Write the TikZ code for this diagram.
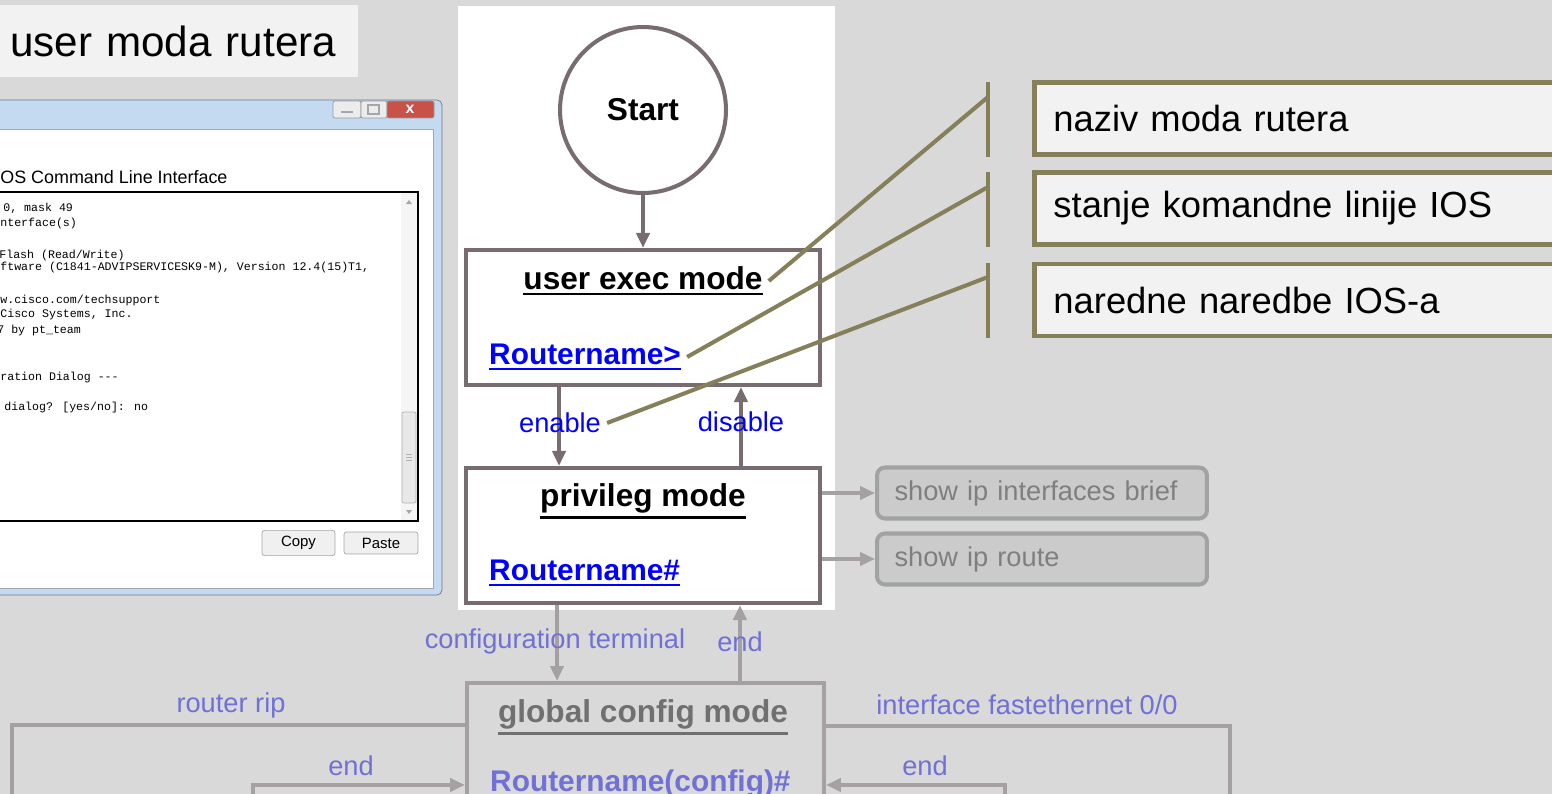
\documentclass[tikz,border=0pt]{standalone}
\usepackage{fontspec}
\setmainfont{Liberation Sans}
\newfontfamily\monofont{Liberation Mono}
\usetikzlibrary{positioning, arrows.meta}
\definecolor{bgray}{RGB}{217,217,217}
\definecolor{pale}{RGB}{242,242,242}
\definecolor{mauve}{RGB}{120,108,112}
\definecolor{fade}{RGB}{165,160,161}
\definecolor{fadeblue}{RGB}{112,112,214}
\definecolor{fadetext}{RGB}{112,112,112}
\definecolor{leader}{RGB}{133,128,90}
\definecolor{showfill}{RGB}{203,203,203}
\definecolor{showline}{RGB}{160,163,162}
\definecolor{showtext}{RGB}{127,127,127}
\definecolor{winblue}{RGB}{196,218,240}
\definecolor{winedge}{RGB}{110,120,135}
\definecolor{closered}{RGB}{200,82,72}
\newcommand\tip{Triangle[length=0.3cm,width=0.26cm]}
\newcommand\undl[1]{\setbox0=\hbox{#1}\vtop{\copy0\kern0.1em\hrule height 1.4pt width \wd0}}

\begin{document}
\begin{tikzpicture}[x=0.02cm, y=-0.02cm,
  mode/.style={draw=mauve, line width=2.3pt, fill=white, minimum width=7.08cm, minimum height=2.7cm},
  head/.style={font=\bfseries\fontsize{18}{20}\selectfont},
  prompt/.style={anchor=west, text=blue, font=\bfseries\fontsize{17}{20}\selectfont},
  cmd/.style={text=blue, font=\fontsize{15.5}{18}\selectfont},
  fcmd/.style={text=fadeblue, font=\fontsize{15.5}{18}\selectfont},
  arr/.style={draw=mauve, line width=2.3pt, -{\tip}},
  farr/.style={draw=fade, line width=2.3pt, -{\tip}},
  fline/.style={draw=fade, line width=2.3pt},
  showbox/.style={anchor=west, draw=showline, fill=showfill, line width=2.3pt, rounded corners=0.16cm, text=showtext, text width=5.9cm, align=left, inner xsep=0.35cm, minimum height=1.02cm, font=\fontsize{15.5}{18}\selectfont},
  note/.style={anchor=west, draw=leader, fill=pale, line width=2.8pt, text width=11cm, align=left, inner xsep=0.38cm, minimum height=1.44cm, font=\fontsize{20.7}{24}\selectfont},
  lead/.style={draw=leader, line width=2.3pt},
  tt/.style={anchor=west, inner sep=0pt, font=\monofont\fontsize{6.6}{7}\selectfont}
]
\fill[bgray] (0,0) rectangle (1552,794);
\useasboundingbox (0,0) rectangle (1552,794);

% title
\node[anchor=north west, fill=pale, minimum height=1.44cm, text width=6.76cm, align=left, inner xsep=0.2cm, font=\fontsize{24}{28}\selectfont] (title) at (0,5) {user moda rutera};

% terminal window
\draw[winedge, fill=winblue, rounded corners=0.1cm] (-20,100) rectangle (442,595);
\draw[gray!70, fill=white] (-10,129) rectangle (433,588);
\draw[gray!80, fill=gray!15, rounded corners=0.04cm] (333,101) rectangle (361,118);
\draw[gray!80, fill=gray!15, rounded corners=0.04cm] (361,101) rectangle (387,118);
\draw[gray!80, fill=closered, rounded corners=0.04cm] (387,101) rectangle (434,118);
\draw[gray!70, line width=1pt] (341,112) -- (353,112);
\draw[gray!70, line width=0.8pt] (368,105) rectangle (379,114);
\node[white, font=\bfseries\fontsize{9}{10}\selectfont] (closex) at (410,109) {x};
\node[anchor=west, inner sep=0pt, font=\fontsize{10.2}{12}\selectfont] (cli) at (0,177) {OS Command Line Interface};
\draw[black, line width=1pt, fill=white] (-10,192) rectangle (418,521);
\fill[gray!8] (401,193) rectangle (417,520);
\draw[gray!60, fill=gray!18, rounded corners=0.04cm] (402,412) rectangle (416,503);
\foreach \y in {454,457,460} \draw[gray!60] (406,\y) -- (412,\y);
\fill[gray!70] (406,204) -- (412,204) -- (409,200) -- cycle;
\fill[gray!70] (406,510) -- (412,510) -- (409,514) -- cycle;
\node[tt] (l1) at (3,208) {0, mask 49};
\node[tt] (l2) at (0,224) {nterface(s)};
\node[tt] (l3) at (-1,255) {Flash (Read/Write)};
\node[tt] (l4) at (0,268) {ftware (C1841-ADVIPSERVICESK9-M), Version 12.4(15)T1,};
\node[tt] (l5) at (0,300) {w.cisco.com/techsupport};
\node[tt] (l6) at (0,315) {Cisco Systems, Inc.};
\node[tt] (l7) at (-3,331) {7 by pt\_team};
\node[tt] (l8) at (0,377) {ration Dialog ---};
\node[tt] (l9) at (4,407) {dialog? [yes/no]: no};
\node[draw=gray!70, fill=gray!12, rounded corners=0.05cm, minimum width=1.46cm, minimum height=0.44cm, font=\fontsize{8.5}{10}\selectfont] (copy) at (298.5,543) {Copy};
\node[draw=gray!70, fill=gray!12, rounded corners=0.05cm, minimum width=1.48cm, minimum height=0.44cm, font=\fontsize{8.5}{10}\selectfont] (paste) at (381,543) {Paste};

% white panel behind the modes
\fill[white] (458,6) rectangle (835,610);

% modes
\node[circle, draw=mauve, line width=2.3pt, fill=white, minimum size=3.32cm, font=\bfseries\fontsize{18}{20}\selectfont] (start) at (643,110) {Start};
\node[mode, below=1.06cm of start] (user) {};
\node[mode, below=1.58cm of user] (priv) {};
\node[anchor=north, draw=fade, line width=2.3pt, minimum width=7.14cm, minimum height=4cm] (glob) at (645.5,681) {};

\node[head] (usert) at (643,281) {\undl{user exec mode}};
\node[prompt] (userp) at (483,357) {\undl{Routername>}};
\node[head] (privt) at (643,501) {\undl{privileg mode}};
\node[prompt] (privp) at (483,573) {\undl{Routername\#}};
\node[head, text=fadetext] (globt) at (643,717) {\undl{global config mode}};
\node[prompt, text=fadeblue] (globp) at (484,784) {Routername(config)\#};

\draw[arr] (start) -- (user);
\draw[arr] ([xshift=-1.68cm]user.south) -- ([xshift=-1.68cm]priv.north);
\draw[arr] ([xshift=1.96cm]priv.north) -- ([xshift=1.96cm]user.south);
\node[cmd] (enable) at (560,423) {enable};
\node[cmd] (disable) at (741,422) {disable};

% show commands
\node[showbox] (brief) at (875,493) {show ip interfaces brief};
\node[showbox] (route) at (875,559) {show ip route};
\draw[farr] (priv.east |- brief) -- (brief);
\draw[farr] (priv.east |- route.west) -- (route);

% global config
\draw[farr] ([xshift=-1.72cm]priv.south) -- ([xshift=-1.72cm]priv.south |- glob.north);
\draw[farr] ([xshift=1.94cm]priv.south |- glob.north) -- ([xshift=1.94cm]priv.south);
\node[fcmd] (conft) at (555,641) {configuration terminal};
\node[fcmd] (endup) at (740,642) {end};

\coordinate (ripdown) at (12,830);
\coordinate (ripback) at (253,830);
\coordinate (ifdown) at (1230,830);
\coordinate (ifback) at (1005,830);
\draw[fline] ([yshift=-0.88cm]glob.north west) -| (ripdown);
\draw[farr] (ripback) |- ([yshift=-2.08cm]glob.north west);
\draw[fline] ([yshift=-0.9cm]glob.north east) -| (ifdown);
\draw[farr] (ifback) |- ([yshift=-2.08cm]glob.north east);
\node[fcmd] (rip) at (231,705) {router rip};
\node[fcmd] (endl) at (351,766) {end};
\node[fcmd] (iface) at (1027,705) {interface fastethernet 0/0};
\node[fcmd] (endr) at (925,766) {end};

% notes
\node[note] (n1) at (1032,118.5) {naziv moda rutera};
\node[note] (n2) at (1032,208.5) {stanje komandne linije IOS};
\node[note] (n3) at (1032,300) {naredne naredbe IOS-a};
\coordinate (b1) at (988,97);
\coordinate (b2) at (988,187);
\coordinate (b3) at (988,277);
\draw[lead] (988,82) -- (988,157);
\draw[lead] (988,172) -- (988,247);
\draw[lead] (988,263) -- (988,338);
\draw[lead] (b1) -- (usert.east);
\draw[lead] (b2) -- (userp.east);
\draw[lead] (b3) -- (enable.east);
\end{tikzpicture}
\end{document}
